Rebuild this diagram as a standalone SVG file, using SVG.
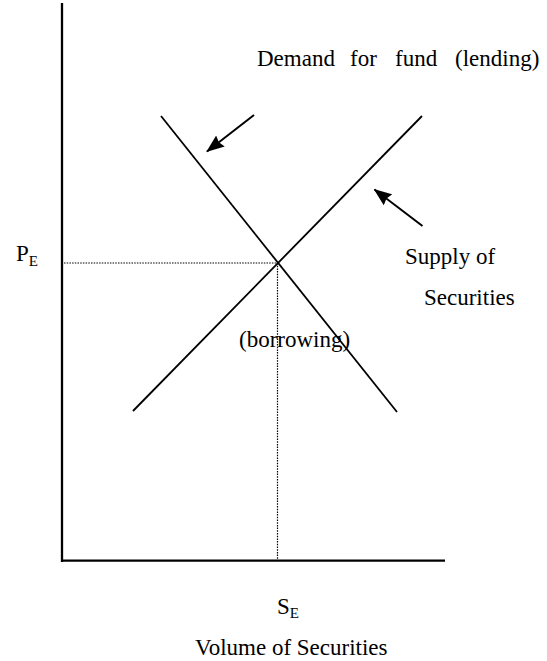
<svg xmlns="http://www.w3.org/2000/svg" width="547" height="661" viewBox="0 0 547 661">
<style>
text{font-family:"Liberation Serif","Times New Roman",serif;font-size:23px;fill:#000}
.sub{font-size:15px}
.ax{stroke:#000;stroke-width:2.3;fill:none}
.ln{stroke:#000;stroke-width:1.8;fill:none}
.dot{stroke:#000;stroke-width:1.2;stroke-dasharray:1.5 1.2;fill:none}
.ar{stroke:#000;stroke-width:2;fill:none}
</style>
<defs>
<marker id="ah" markerWidth="18" markerHeight="14" refX="17" refY="7" orient="auto" markerUnits="userSpaceOnUse" viewBox="0 0 18 14">
<path d="M0,0 L18,7 L0,14 L2,7 Z" fill="#000"/>
</marker>
</defs>
<g id="axes">
<line class="ax" x1="62" y1="3" x2="62" y2="562"/>
<line class="ax" x1="61" y1="560.7" x2="445" y2="560.7"/>
</g>
<g id="connectors">
<line class="ln" x1="161" y1="116" x2="397" y2="412"/>
<line class="ln" x1="133" y1="411" x2="422" y2="116"/>
<line class="dot" x1="64" y1="263" x2="277" y2="263"/>
<line class="dot" x1="277.5" y1="263" x2="277.5" y2="560"/>
<line class="ar" x1="254" y1="115" x2="207" y2="151.5" marker-end="url(#ah)"/>
<line class="ar" x1="422.5" y1="226" x2="374.5" y2="189.5" marker-end="url(#ah)"/>
</g>
<g id="demand-label"><text y="65.5"><tspan x="257">Demand</tspan><tspan x="350">for</tspan><tspan x="395">fund</tspan><tspan x="455">(lending)</tspan></text></g>
<g id="pe-label"><text x="16" y="261">P<tspan class="sub" dy="5">E</tspan></text></g>
<g id="supply-label">
<text x="405" y="264">Supply of</text>
<text x="424" y="305">Securities</text>
</g>
<g id="borrowing-label"><text x="239" y="346.5">(borrowing)</text></g>
<g id="se-label"><text x="277" y="614">S<tspan class="sub" dy="4">E</tspan></text></g>
<g id="x-title"><text x="195" y="655">Volume of Securities</text></g>
</svg>
